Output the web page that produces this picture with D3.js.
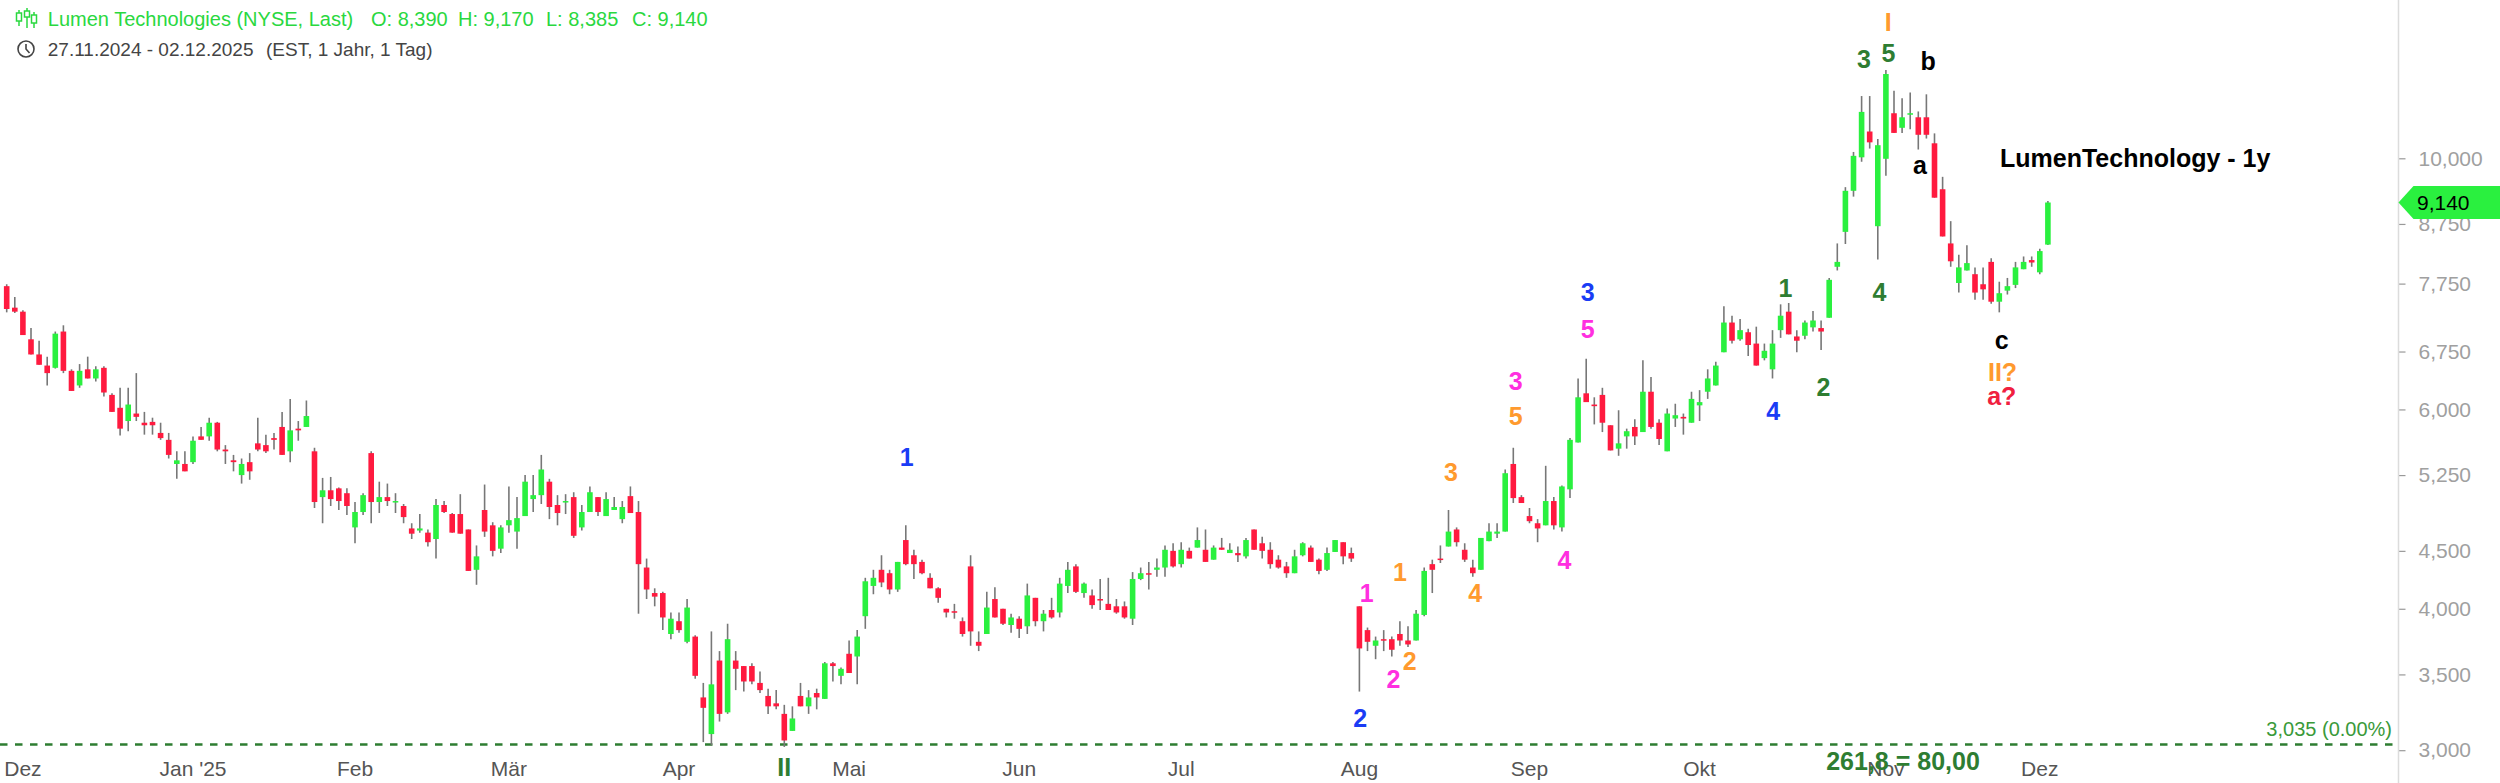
<!DOCTYPE html>
<html><head><meta charset="utf-8">
<script src="https://cdn.jsdelivr.net/npm/d3@7"></script>
<style>html,body{margin:0;padding:0;background:#fff;overflow:hidden}svg{display:block;font-family:Arial,"Liberation Sans",sans-serif}</style>
</head><body><svg id="chart" width="2500" height="783"></svg>
<script>
// ---------------- DATA ----------------
const openP = [7.71,7.38,7.32,6.92,6.71,6.56,6.53,7.03,6.49,6.30,6.51,6.39,6.53,6.18,6.02,5.86,5.95,5.84,5.85,5.72,
5.64,5.37,5.37,5.39,5.68,5.68,5.84,5.53,5.41,5.25,5.39,5.60,5.58,5.66,5.79,5.51,5.77,5.79,5.51,5.02,
5.09,5.11,5.06,4.72,4.87,5.49,4.97,5.02,4.97,4.93,4.71,4.69,4.67,4.61,4.94,4.85,4.85,4.70,4.33,4.89,
4.74,4.52,4.74,4.68,4.83,5.00,5.04,5.18,4.94,4.97,5.02,4.72,4.87,5.02,4.83,4.89,4.80,5.03,4.87,4.35,
4.13,4.13,3.80,3.90,3.74,3.78,3.34,3.10,3.60,3.24,3.60,3.56,3.56,3.44,3.35,3.30,3.23,3.12,3.35,3.28,
3.37,3.33,3.58,3.49,3.65,3.63,3.94,4.19,4.33,4.30,4.16,4.60,4.46,4.40,4.26,4.17,4.00,3.98,3.90,4.36,
3.74,3.80,4.08,4.00,3.87,3.92,3.86,4.09,3.90,3.99,3.97,4.19,4.36,4.13,4.11,4.08,4.04,4.02,4.02,3.92,
4.25,4.30,4.33,4.35,4.50,4.38,4.50,4.53,4.51,4.42,4.53,4.48,4.48,4.45,4.70,4.57,4.51,4.42,4.36,4.30,
4.46,4.53,4.42,4.33,4.49,4.58,4.48,4.02,3.83,3.71,3.76,3.76,3.80,3.75,3.75,3.95,4.38,4.43,4.54,4.70,
4.51,4.35,4.33,4.59,4.66,4.68,5.37,5.02,4.83,4.76,4.74,4.98,4.72,5.10,5.61,6.20,6.06,6.18,5.81,5.54,
5.68,5.79,5.73,6.22,5.84,5.51,5.89,5.91,5.84,6.05,6.22,6.30,6.74,7.16,6.92,7.02,6.86,6.66,6.51,7.05,
7.32,6.96,6.97,7.09,7.08,7.23,8.02,8.61,9.36,10.02,10.56,8.71,9.99,10.96,10.64,10.94,10.87,10.87,10.31,9.39,
8.41,7.76,7.96,7.90,7.74,8.10,7.47,7.64,7.73,7.98,8.13,7.93,8.39];
const highP = [7.74,7.54,7.34,7.08,6.90,6.68,7.03,7.12,6.51,6.58,6.68,6.55,6.55,6.20,6.27,6.27,6.46,5.97,5.90,5.84,
5.72,5.51,5.51,5.68,5.79,5.90,5.85,5.58,5.47,5.43,5.49,5.90,5.70,5.72,5.97,6.13,5.86,6.11,5.55,5.22,
5.23,5.12,5.11,4.97,5.06,5.51,5.18,5.16,5.06,4.95,4.76,4.85,4.70,5.00,4.98,4.86,5.05,4.70,4.55,5.15,
4.77,4.74,5.13,5.02,5.25,5.25,5.47,5.21,5.04,5.05,5.07,4.94,5.13,5.02,5.07,5.02,4.98,5.13,4.98,4.43,
4.17,4.14,3.97,3.97,4.08,3.79,3.44,3.82,3.67,3.88,3.67,3.56,3.58,3.52,3.40,3.39,3.29,3.28,3.44,3.39,
3.40,3.59,3.59,3.55,3.75,3.83,4.26,4.33,4.46,4.33,4.40,4.74,4.51,4.42,4.30,4.18,4.00,4.04,3.93,4.46,
3.82,4.14,4.18,4.00,3.96,3.94,4.21,4.09,3.99,4.09,4.26,4.40,4.38,4.22,4.16,4.25,4.26,4.08,4.06,4.31,
4.35,4.40,4.43,4.55,4.57,4.58,4.53,4.72,4.70,4.55,4.62,4.57,4.54,4.62,4.70,4.63,4.58,4.46,4.40,4.51,
4.58,4.55,4.43,4.53,4.60,4.58,4.53,4.02,3.85,3.78,3.83,3.78,3.90,3.86,3.99,4.35,4.42,4.55,4.89,4.72,
4.57,4.42,4.62,4.76,4.76,5.31,5.55,5.04,4.91,4.80,5.35,5.02,5.14,5.66,6.39,6.65,6.15,6.27,5.81,5.99,
5.77,5.88,6.63,6.41,5.88,6.01,6.07,5.95,6.22,6.24,6.51,6.61,7.40,7.26,7.21,7.07,7.10,6.86,7.05,7.43,
7.45,7.05,7.19,7.33,7.19,7.84,8.41,9.43,10.13,11.35,11.35,10.40,11.97,11.47,11.30,11.43,11.00,11.39,10.52,9.63,
8.80,8.22,8.38,8.01,8.01,8.16,7.78,7.84,8.10,8.19,8.19,8.32,9.17];
const lowP = [7.31,7.30,6.98,6.71,6.57,6.30,6.52,6.46,6.23,6.27,6.39,6.35,6.16,5.97,5.69,5.74,5.86,5.70,5.70,5.64,
5.43,5.21,5.29,5.37,5.64,5.63,5.51,5.37,5.29,5.16,5.20,5.51,5.49,5.53,5.47,5.39,5.63,5.79,4.91,4.76,
4.93,4.89,4.84,4.57,4.84,4.76,4.86,4.93,4.86,4.76,4.61,4.67,4.54,4.43,4.86,4.67,4.66,4.32,4.20,4.63,
4.45,4.48,4.67,4.52,4.83,4.87,4.95,4.80,4.74,4.85,4.62,4.69,4.87,4.83,4.83,4.89,4.76,4.86,3.96,4.08,
4.02,3.83,3.76,3.81,3.73,3.47,3.05,3.03,3.18,3.23,3.39,3.38,3.43,3.37,3.23,3.26,3.02,3.12,3.28,3.23,
3.26,3.33,3.45,3.43,3.51,3.43,3.84,4.12,4.18,4.12,4.14,4.37,4.25,4.29,4.17,4.05,3.93,3.92,3.78,3.71,
3.67,3.80,3.93,3.87,3.81,3.77,3.80,3.86,3.82,3.92,3.93,4.13,4.13,4.09,4.00,3.99,3.99,3.96,3.92,3.87,
4.24,4.16,4.27,4.27,4.35,4.35,4.43,4.53,4.40,4.42,4.51,4.48,4.40,4.43,4.51,4.43,4.34,4.34,4.26,4.30,
4.45,4.40,4.29,4.32,4.49,4.38,4.40,3.38,3.67,3.61,3.67,3.63,3.71,3.70,3.75,3.94,4.13,4.39,4.54,4.54,
4.40,4.27,4.33,4.59,4.62,4.68,4.96,4.96,4.76,4.58,4.74,4.70,4.68,5.01,5.61,6.09,5.82,5.73,5.52,5.46,
5.54,5.58,5.73,5.77,5.58,5.51,5.79,5.70,5.84,5.86,6.13,6.30,6.74,6.86,6.90,6.69,6.56,6.63,6.39,6.94,
6.99,6.74,6.92,7.03,6.77,7.23,7.96,8.40,9.25,9.93,10.20,8.14,9.65,10.53,10.53,10.61,10.18,10.41,9.23,8.53,
8.02,7.61,7.96,7.50,7.50,7.44,7.31,7.58,7.68,7.98,8.02,7.90,8.385];
const closeP = [7.36,7.32,6.98,6.71,6.57,6.46,7.00,6.49,6.23,6.49,6.39,6.51,6.21,5.97,5.77,6.06,5.91,5.81,5.81,5.66,
5.47,5.41,5.29,5.63,5.64,5.84,5.53,5.51,5.39,5.37,5.29,5.53,5.51,5.64,5.47,5.75,5.75,5.92,4.97,5.09,
5.00,4.98,4.93,4.87,5.04,4.97,5.02,4.98,4.98,4.82,4.66,4.71,4.58,4.94,4.87,4.67,4.66,4.32,4.45,4.68,
4.50,4.72,4.79,4.81,5.18,5.04,5.31,4.92,4.86,4.98,4.64,4.87,5.07,4.87,5.00,4.92,4.92,4.86,4.38,4.16,
4.10,3.93,3.92,3.83,4.01,3.49,3.27,3.43,3.23,3.76,3.54,3.45,3.45,3.39,3.28,3.28,3.06,3.20,3.28,3.34,
3.34,3.58,3.56,3.54,3.51,3.78,4.23,4.26,4.22,4.16,4.40,4.38,4.38,4.30,4.17,4.09,3.97,3.97,3.80,3.82,
3.71,4.01,3.93,3.88,3.93,3.84,4.11,3.90,3.96,3.93,4.21,4.33,4.14,4.21,4.03,4.07,3.99,3.97,3.93,4.25,
4.30,4.29,4.35,4.51,4.36,4.51,4.43,4.60,4.40,4.53,4.51,4.51,4.46,4.60,4.51,4.50,4.38,4.35,4.30,4.45,
4.57,4.40,4.32,4.48,4.60,4.45,4.43,3.69,3.74,3.75,3.75,3.68,3.75,3.72,3.96,4.32,4.33,4.42,4.68,4.58,
4.42,4.30,4.62,4.68,4.68,5.27,5.01,4.96,4.78,4.71,4.98,4.74,5.13,5.64,6.15,6.09,6.04,5.84,5.52,5.60,
5.74,5.68,6.22,5.79,5.65,5.95,5.93,5.89,6.13,6.09,6.39,6.56,7.16,6.90,7.05,6.84,6.56,6.76,6.86,7.26,
6.99,6.90,7.16,7.19,7.03,7.81,8.10,9.36,10.05,10.99,10.33,10.27,11.87,10.53,10.87,10.96,10.49,10.49,9.23,8.53,
8.11,8.01,8.08,7.61,7.66,7.47,7.60,7.71,8.01,8.10,8.09,8.28,9.14];

const firstDay = "2024-11-27", lastDay = "2025-12-02";
const marketHolidays = ["2024-11-28","2024-12-25","2025-01-01","2025-01-09","2025-01-20","2025-02-17",
  "2025-04-18","2025-05-26","2025-06-19","2025-07-04","2025-09-01","2025-11-27"];
const monthLabels = ["Dez","Jan '25","Feb","Mär","Apr","Mai","Jun","Jul","Aug","Sep","Okt","Nov","Dez"];
const priceTicks = [3.0,3.5,4.0,4.5,5.25,6.0,6.75,7.75,8.75,10.0];
const supportLevel = 3.035;
const lastClose = 9.14;

// Elliott wave labels: [text, colour key, candle index, price]
const waveText  = ["1","2","3","4", "1","2","3","4","5", "1","2","3","4","5","I","II?", "1","2","3","4","5", "a","b","c","a?"];
const waveColor = ["b","b","b","b", "m","m","m","m","m", "o","o","o","o","o","o","o", "g","g","g","g","g", "k","k","k","r"];
const waveIdx   = [111.1,167.1,195.2,218.1, 167.9,171.2,186.3,192.3,195.2, 172.0,173.2,178.3,181.3,186.3,232.3,246.4, 219.6,224.3,229.3,231.2,232.3, 236.2,237.2,246.3,246.3];
const wavePrice = [5.45,3.20,7.62,5.98, 4.13,3.47,6.36,4.42,7.07, 4.31,3.60,5.28,4.13,5.92,13.2,6.47, 7.68,6.28,12.24,7.62,12.39, 9.87,12.19,6.91,6.16];

// ---------------- SETUP ----------------
const palette = {b:"#1a3cf5", m:"#ff2fe0", o:"#ff9a2e", g:"#2e7d32", k:"#000000", r:"#f0203f"};
const upCol = "#2af03f", downCol = "#ff1a3f", wickCol = "#777777";
const W = 2500, H = 783, plotRight = 2398.5;

const parse = d3.timeParse("%Y-%m-%d"), fmtDay = d3.timeFormat("%Y-%m-%d");
const holidaySet = new Set(marketHolidays);
const dates = d3.timeDay.range(parse(firstDay), d3.timeDay.offset(parse(lastDay), 1))
  .filter(d => d.getDay() !== 0 && d.getDay() !== 6 && !holidaySet.has(fmtDay(d)));
const candles = dates.map((d, i) => ({date: d, i, o: openP[i], h: highP[i], l: lowP[i], c: closeP[i]}));

const x = d3.scaleLinear().domain([0, candles.length - 1]).range([6.7, 6.7 + 8.1 * (candles.length - 1)]);
const y = d3.scaleLog().domain([3.0, 10.0]).range([750.2, 158.3]);
const de = d3.formatLocale({decimal: ",", thousands: ".", grouping: [3], currency: ["", "€"]});
const f3 = de.format(".3f");

const svg = d3.select("#chart");
svg.append("rect").attr("width", W).attr("height", H).attr("fill", "#fff");

// Right axis
const yAxis = d3.axisRight(y).tickValues(priceTicks).tickFormat(f3).tickSize(7).tickPadding(13);
const ga = svg.append("g").attr("transform", `translate(${plotRight},0)`).call(yAxis);
ga.select(".domain").remove();
ga.selectAll(".tick line").attr("stroke", "#999").attr("stroke-width", 1.2);
ga.selectAll(".tick text").attr("fill", "#a0a0a0").attr("font-size", 21).attr("font-family", "Arial, 'Liberation Sans', sans-serif");
svg.append("line").attr("x1", plotRight).attr("x2", plotRight).attr("y1", 0).attr("y2", H)
  .attr("stroke", "#dcdcdc").attr("stroke-width", 1.5);

// Month labels
const monthStarts = [];
candles.forEach((c, i) => {
  if (i > 0 && c.date.getMonth() !== candles[i - 1].date.getMonth()) monthStarts.push(i);
});
svg.append("g").selectAll("text").data(monthStarts).join("text")
  .attr("x", d => x(d)).attr("y", 776).attr("text-anchor", "middle")
  .attr("font-size", 21).attr("fill", "#555").text((d, k) => monthLabels[k]);

// Support line
svg.append("line").attr("x1", 0).attr("x2", plotRight).attr("y1", y(supportLevel)).attr("y2", y(supportLevel))
  .attr("stroke", "#2e7d32").attr("stroke-width", 2.4).attr("stroke-dasharray", "7.5,7.5");
svg.append("text").attr("x", 2392).attr("y", y(supportLevel) - 8).attr("text-anchor", "end")
  .attr("font-size", 20).attr("fill", "#3a9a3a").text(`${de.format(".3f")(supportLevel)} (0.00%)`);

// Candles
const gc = svg.append("g");
gc.selectAll("line").data(candles).join("line")
  .attr("x1", d => x(d.i)).attr("x2", d => x(d.i))
  .attr("y1", d => y(d.h)).attr("y2", d => y(d.l))
  .attr("stroke", wickCol).attr("stroke-width", 1.6);
gc.selectAll("rect").data(candles).join("rect")
  .attr("x", d => x(d.i) - 2.8).attr("width", 5.6)
  .attr("y", d => y(Math.max(d.o, d.c)))
  .attr("height", d => Math.max(1.5, Math.abs(y(d.o) - y(d.c))))
  .attr("fill", d => d.c >= d.o ? upCol : downCol);

// Wave labels
svg.append("g").selectAll("text").data(waveText).join("text")
  .attr("x", (d, k) => x(waveIdx[k])).attr("y", (d, k) => y(wavePrice[k]))
  .attr("text-anchor", "middle").attr("dominant-baseline", "central")
  .attr("font-size", 25).attr("font-weight", "bold")
  .attr("fill", (d, k) => palette[waveColor[k]]).text(d => d);

// Bottom annotations
svg.append("text").attr("x", x(96)).attr("y", 776).attr("text-anchor", "middle")
  .attr("font-size", 25).attr("font-weight", "bold").attr("fill", "#2e7d32").text("II");
svg.append("text").attr("x", 1903).attr("y", 770).attr("text-anchor", "middle")
  .attr("font-size", 25).attr("font-weight", "bold").attr("fill", "#2e7d32").text("261,8 = 80,00");

// Title annotation
svg.append("text").attr("x", 2000).attr("y", 158).attr("dominant-baseline", "central")
  .attr("font-size", 25).attr("font-weight", "bold").attr("fill", "#000").text("LumenTechnology - 1y");

// Last price marker
const yl = y(lastClose);
svg.append("path").attr("d", `M${plotRight},${yl} L${plotRight + 15},${yl - 16.5} L${W},${yl - 16.5} L${W},${yl + 16.5} L${plotRight + 15},${yl + 16.5} Z`)
  .attr("fill", "#2af03f");
svg.append("text").attr("x", 2417).attr("y", yl).attr("dominant-baseline", "central")
  .attr("font-size", 21).attr("fill", "#000").text(f3(lastClose));

// Header
const last = candles[candles.length - 1];
const hdr = svg.append("g");
const hdrGreen = "#2ad83f";
const ic = hdr.append("g").attr("stroke", hdrGreen).attr("fill", "none").attr("stroke-width", 1.5);
[[19, 10, 26, 13, 21], [27, 8, 28, 11, 17], [34, 12, 28, 15, 23]].forEach(([cx, t, b, bt, bb]) => {
  ic.append("line").attr("x1", cx).attr("x2", cx).attr("y1", t).attr("y2", b);
  ic.append("rect").attr("x", cx - 2.5).attr("y", bt).attr("width", 5).attr("height", bb - bt).attr("fill", "#fff");
});
const hdrParts = [
  [47.8, "Lumen Technologies (NYSE, Last)"],
  [371, `O: ${f3(last.o)}`],
  [458, `H: ${f3(last.h)}`],
  [546, `L: ${f3(last.l)}`],
  [632, `C: ${f3(last.c)}`]
];
hdr.append("g").selectAll("text").data(hdrParts).join("text")
  .attr("x", d => d[0]).attr("y", 26).attr("font-size", 20).attr("fill", hdrGreen).text(d => d[1]);
hdr.append("circle").attr("cx", 26).attr("cy", 49).attr("r", 8).attr("fill", "none").attr("stroke", "#444").attr("stroke-width", 1.6);
hdr.append("path").attr("d", "M26,44 L26,49 L29.5,53").attr("fill", "none").attr("stroke", "#444").attr("stroke-width", 1.6);
const fd = d3.timeFormat("%d.%m.%Y");
hdr.append("text").attr("x", 47.8).attr("y", 56).attr("font-size", 19).attr("fill", "#444")
  .text(`${fd(candles[0].date)} - ${fd(last.date)}`);
hdr.append("text").attr("x", 266).attr("y", 56).attr("font-size", 19).attr("fill", "#444")
  .text("(EST, 1 Jahr, 1 Tag)");
</script></body></html>
